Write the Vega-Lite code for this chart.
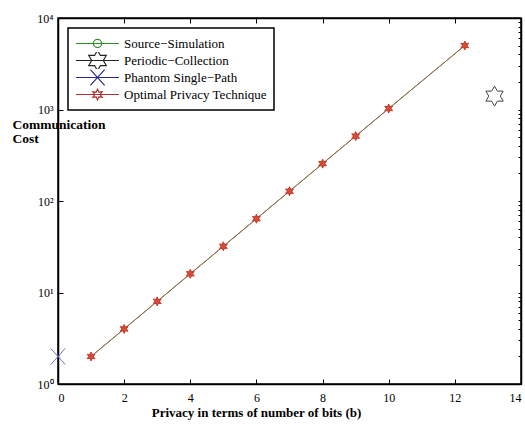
{
  "$schema": "https://vega.github.io/schema/vega-lite/v6.json",
  "width": 463,
  "height": 366,
  "autosize": "none",
  "padding": {"left": 58, "top": 18, "right": 4, "bottom": 42},
  "background": "white",
  "config": {
    "view": {"stroke": "black", "strokeWidth": 1.5},
    "axis": {"grid": false, "domainColor": "black", "domainWidth": 1.5, "tickColor": "black", "labelFont": "Liberation Serif", "labelFontSize": 12, "labelColor": "black", "titleFont": "Liberation Serif", "titleFontSize": 13, "titleFontWeight": "bold", "titleColor": "black"},
    "legend": {
      "orient": "none", "legendX": 10, "legendY": 10, "title": null,
      "strokeColor": "black", "fillColor": "white", "padding": 7, "strokeWidth": 1.5,
      "labelFont": "Liberation Serif", "labelFontSize": 13, "labelColor": "black",
      "symbolSize": 1849, "symbolStrokeWidth": 1.2, "symbolOpacity": 1, "labelOffset": 4, "rowPadding": 0, "clipHeight": 17
    }
  },
  "data": {
    "values": [
      {"series": "Source−Simulation", "x": 1, "y": 2},
      {"series": "Source−Simulation", "x": 2, "y": 4},
      {"series": "Source−Simulation", "x": 3, "y": 8},
      {"series": "Source−Simulation", "x": 4, "y": 16},
      {"series": "Source−Simulation", "x": 5, "y": 32},
      {"series": "Source−Simulation", "x": 6, "y": 64},
      {"series": "Source−Simulation", "x": 7, "y": 128},
      {"series": "Source−Simulation", "x": 8, "y": 256},
      {"series": "Source−Simulation", "x": 9, "y": 512},
      {"series": "Source−Simulation", "x": 10, "y": 1024},
      {"series": "Source−Simulation", "x": 12.3, "y": 5000},
      {"series": "Periodic−Collection", "x": 13.2, "y": 1400},
      {"series": "Phantom Single−Path", "x": 0, "y": 2},
      {"series": "Optimal Privacy Technique", "x": 1, "y": 2},
      {"series": "Optimal Privacy Technique", "x": 2, "y": 4},
      {"series": "Optimal Privacy Technique", "x": 3, "y": 8},
      {"series": "Optimal Privacy Technique", "x": 4, "y": 16},
      {"series": "Optimal Privacy Technique", "x": 5, "y": 32},
      {"series": "Optimal Privacy Technique", "x": 6, "y": 64},
      {"series": "Optimal Privacy Technique", "x": 7, "y": 128},
      {"series": "Optimal Privacy Technique", "x": 8, "y": 256},
      {"series": "Optimal Privacy Technique", "x": 9, "y": 512},
      {"series": "Optimal Privacy Technique", "x": 10, "y": 1024},
      {"series": "Optimal Privacy Technique", "x": 12.3, "y": 5000}
    ]
  },
  "layer": [
    {
      "transform": [{"filter": "datum.series === 'Source−Simulation' || datum.series === 'Optimal Privacy Technique'"}],
      "mark": {"type": "line", "strokeWidth": 1, "clip": false},
      "encoding": {
        "x": {"field": "x", "type": "quantitative", "scale": {"domain": [0, 14], "nice": false},
          "axis": {"orient": "bottom", "values": [0, 2, 4, 6, 8, 10, 12, 14], "tickSize": -5, "labelPadding": 13, "title": "Privacy in terms of number of bits (b)", "titleX": 198, "titlePadding": 3}},
        "y": {"field": "y", "type": "quantitative", "scale": {"type": "log", "domain": [1, 10000], "nice": false},
          "axis": {"orient": "left", "values": [1, 10, 100, 1000, 10000], "tickSize": -5, "labelPadding": 10,
            "labelExpr": "'10' + ['⁰','¹','²','³','⁴'][round(log(datum.value)/LN10)]",
            "title": ["Communication", "Cost"], "titleFontSize": 13.5, "titleAngle": 0, "titleAlign": "left", "titleBaseline": "alphabetic", "titleX": -46, "titleY": 110, "titleLineHeight": 14}},
        "detail": {"field": "series", "type": "nominal"},
        "stroke": {"condition": {"test": "datum.series === 'Optimal Privacy Technique'", "value": "#a5604f"}, "value": "#3c9c3c"}
      }
    },
    {
      "mark": {"type": "point", "strokeWidth": 1, "opacity": 1, "clip": false},
      "encoding": {
        "x": {"field": "x", "type": "quantitative",
          "axis": {"orient": "top", "values": [0, 2, 4, 6, 8, 10, 12, 14], "tickSize": -5, "labels": false, "title": null}},
        "y": {"field": "y", "type": "quantitative",
          "axis": {"orient": "right", "values": [1,2,3,4,5,6,7,8,9,10,20,30,40,50,60,70,80,90,100,200,300,400,500,600,700,800,900,1000,2000,3000,4000,5000,6000,7000,8000,9000,10000], "tickSize": -3, "labels": false, "title": null}},
        "shape": {"field": "series", "type": "nominal", "legend": null,
          "scale": {"domain": ["Source−Simulation", "Periodic−Collection", "Phantom Single−Path", "Optimal Privacy Technique"],
            "range": ["circle",
              "M0,-1L0.289,-0.5L0.866,-0.5L0.577,0L0.866,0.5L0.289,0.5L0,1L-0.289,0.5L-0.866,0.5L-0.577,0L-0.866,-0.5L-0.289,-0.5Z",
              "M-0.9,-1L0.9,1M-0.9,1L0.9,-1",
              "M0,-1L0.25,-0.433L0.866,-0.5L0.5,0L0.866,0.5L0.25,0.433L0,1L-0.25,0.433L-0.866,0.5L-0.5,0L-0.866,-0.5L-0.25,-0.433Z"]}},
        "stroke": {"condition": [
          {"test": "datum.series === 'Source−Simulation'", "value": "#3c9c3c"},
          {"test": "datum.series === 'Periodic−Collection'", "value": "#444444"},
          {"test": "datum.series === 'Phantom Single−Path'", "value": "#7070c8"}], "value": "#c83a2a"},
        "fill": {"condition": {"test": "datum.series === 'Optimal Privacy Technique'", "value": "#d84a3a"}, "value": "transparent"},
        "size": {"condition": [
          {"test": "datum.series === 'Source−Simulation'", "value": 20},
          {"test": "datum.series === 'Periodic−Collection'", "value": 400},
          {"test": "datum.series === 'Phantom Single−Path'", "value": 256}], "value": 81}
      }
    },
    {
      "mark": {"type": "point", "opacity": 0, "filled": false, "strokeWidth": 1.2, "clip": false},
      "encoding": {
        "x": {"field": "x", "type": "quantitative", "axis": null},
        "y": {"field": "y", "type": "quantitative", "axis": null},
        "shape": {"field": "series", "type": "nominal",
          "scale": {"domain": ["Source−Simulation", "Periodic−Collection", "Phantom Single−Path", "Optimal Privacy Technique"],
            "range": [
              "M-1,0L1,0M0.19,0A0.19,0.19 0 1,1 -0.19,0A0.19,0.19 0 1,1 0.19,0",
              "M-1,0L1,0M0,-0.47L0.136,-0.235L0.407,-0.235L0.271,0L0.407,0.235L0.136,0.235L0,0.47L-0.136,0.235L-0.407,0.235L-0.271,0L-0.407,-0.235L-0.136,-0.235Z",
              "M-1,0L1,0M-0.33,-0.37L0.33,0.37M-0.33,0.37L0.33,-0.37",
              "M-1,0L1,0M0,-0.25L0.0625,-0.108L0.217,-0.125L0.125,0L0.217,0.125L0.0625,0.108L0,0.25L-0.0625,0.108L-0.217,0.125L-0.125,0L-0.217,-0.125L-0.0625,-0.108Z"]}},
        "color": {"field": "series", "type": "nominal",
          "scale": {"domain": ["Source−Simulation", "Periodic−Collection", "Phantom Single−Path", "Optimal Privacy Technique"], "range": ["#2e8b2e", "#222222", "#2a2a8a", "#b03030"]}}
      }
    }
  ],
  "resolve": {"axis": {"x": "independent", "y": "independent"}, "scale": {"shape": "independent", "color": "independent"}}
}
